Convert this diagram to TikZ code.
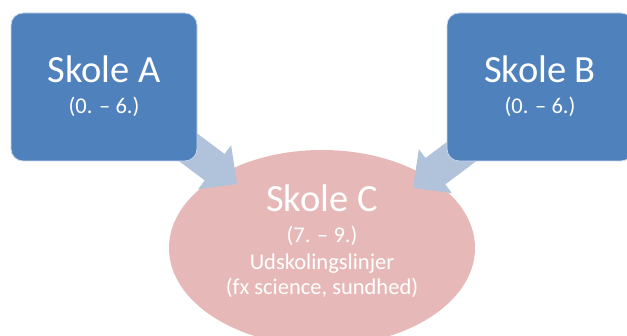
\documentclass[tikz,border=0pt]{standalone}
\usepackage{fontspec}
\setmainfont{Carlito}
\usetikzlibrary{shapes.geometric}
\definecolor{boxblue}{HTML}{4F81BD}
\definecolor{ellpink}{HTML}{E6B9B8}
\definecolor{arrowblue}{HTML}{B1C2DB}
\begin{document}
\begin{tikzpicture}[x=1pt,y=-1pt,
  schoolbox/.style={draw=white!70!boxblue, line width=0.8pt, fill=boxblue,
    rounded corners=12pt, minimum width=186pt, minimum height=148pt, inner sep=0pt},
  schoolell/.style={ellipse, fill=ellpink, minimum width=306pt, minimum height=196pt, inner sep=0pt},
  bigtxt/.style={text=white, font=\fontsize{38.5}{42}\selectfont, anchor=base, inner sep=0pt},
  smalltxt/.style={text=white, font=\fontsize{22.5}{27}\selectfont, anchor=base, inner sep=0pt},
  blockarrow/.style={fill=arrowblue}
]
\useasboundingbox (0,0) rectangle (627,336);
\clip (0,0) rectangle (627,336);
\fill[white] (0,0) rectangle (627,336);

% target ellipse
\node[schoolell] (C) at (322,248) {};

% arrow tips
\coordinate (tipA) at (237,184);
\coordinate (tipB) at (413,188);

% block arrows (drawn under the boxes)
\fill[blockarrow, shift={(tipA)}, rotate=-36.87]
  (0,0) -- (-28,27.5) -- (-28,16.5) -- (-88,16.5) -- (-88,-16.5) -- (-28,-16.5) -- (-28,-27.5) -- cycle;
\fill[blockarrow, shift={(tipB)}, rotate=-143.13]
  (0,0) -- (-28,27.5) -- (-28,16.5) -- (-88,16.5) -- (-88,-16.5) -- (-28,-16.5) -- (-28,-27.5) -- cycle;

% source boxes
\node[schoolbox] (A) at (104,87) {};
\node[schoolbox] (B) at (540,87) {};

% texts
\node[bigtxt] (Atitle) at (104,83) {Skole A};
\node[smalltxt] (Asub) at (104,114) {(0. – 6.)};
\node[bigtxt] (Btitle) at (540,83) {Skole B};
\node[smalltxt] (Bsub) at (540,114) {(0. – 6.)};
\node[bigtxt] (Ctitle) at (322,212) {Skole C};
\node[smalltxt] (Csub1) at (322,243) {(7. – 9.)};
\node[smalltxt] (Csub2) at (322,270) {Udskolingslinjer};
\node[smalltxt] (Csub3) at (322,295) {(fx science, sundhed)};
\end{tikzpicture}
\end{document}
